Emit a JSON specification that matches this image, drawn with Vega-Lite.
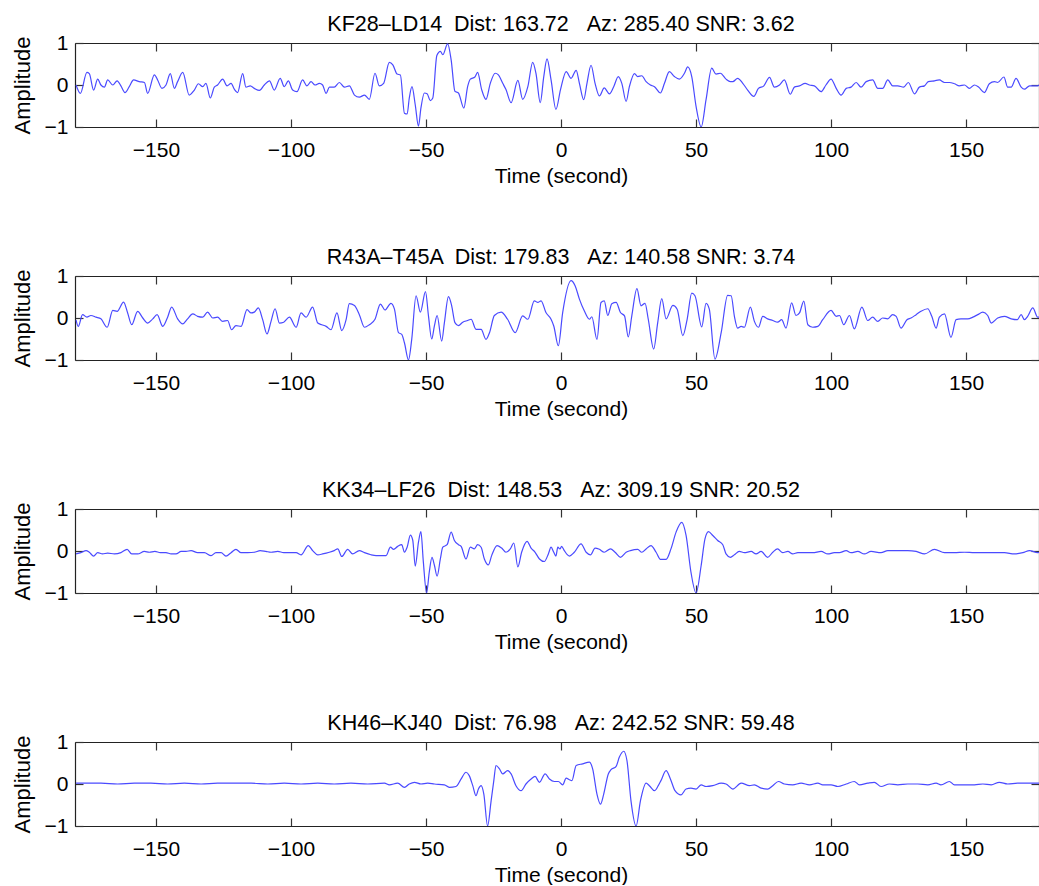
{
  "$schema": "https://vega.github.io/schema/vega-lite/v6.json",
  "padding": {"left": 11, "top": 13, "right": 0, "bottom": 0},
  "background": "white",
  "spacing": 60,
  "config": {
    "view": {"stroke": null},
    "font": "Liberation Sans",
    "title": {"font": "Liberation Sans", "fontSize": 21.5, "fontWeight": "normal", "color": "#000", "offset": -3, "dx": 4},
    "axis": {
      "labelFont": "Liberation Sans", "labelFontSize": 21, "labelColor": "#000", "labelOverlap": false,
      "titleFont": "Liberation Sans", "titleFontSize": 21, "titleFontWeight": "normal", "titleColor": "#000",
      "domainColor": "#222", "domainWidth": 1.2, "tickColor": "#333", "tickWidth": 1.2, "tickSize": -8, "grid": false
    }
  },
  "datasets": {
    "p1": [
      {"t":-179.6,"a":0.00},{"t":-178.0,"a":-0.20},{"t":-175.6,"a":0.30},{"t":-174.7,"a":0.27},{"t":-173.1,"a":-0.12},{"t":-171.6,"a":0.14},{"t":-170.4,"a":0.00},{"t":-169.1,"a":-0.05},{"t":-167.9,"a":0.12},{"t":-166.0,"a":0.00},{"t":-164.4,"a":0.10},{"t":-163.0,"a":-0.02},{"t":-161.5,"a":-0.18},{"t":-159.9,"a":-0.04},{"t":-158.3,"a":0.12},{"t":-156.2,"a":0.08},{"t":-154.3,"a":0.06},{"t":-153.1,"a":-0.20},{"t":-150.6,"a":0.24},{"t":-149.4,"a":0.12},{"t":-147.8,"a":-0.08},{"t":-146.3,"a":0.00},{"t":-144.7,"a":0.27},{"t":-143.2,"a":-0.08},{"t":-142.0,"a":0.08},{"t":-140.1,"a":0.30},{"t":-137.7,"a":-0.24},{"t":-135.8,"a":-0.12},{"t":-134.3,"a":0.03},{"t":-132.7,"a":-0.04},{"t":-131.5,"a":0.04},{"t":-129.9,"a":-0.31},{"t":-128.4,"a":-0.05},{"t":-127.2,"a":0.00},{"t":-125.3,"a":0.14},{"t":-123.7,"a":-0.02},{"t":-122.2,"a":0.04},{"t":-121.0,"a":-0.10},{"t":-119.8,"a":-0.18},{"t":-117.9,"a":0.27},{"t":-116.7,"a":-0.05},{"t":-115.1,"a":-0.02},{"t":-113.6,"a":-0.08},{"t":-111.7,"a":-0.13},{"t":-109.9,"a":0.00},{"t":-108.0,"a":0.10},{"t":-106.2,"a":-0.12},{"t":-104.0,"a":0.16},{"t":-102.5,"a":-0.04},{"t":-101.0,"a":0.10},{"t":-99.4,"a":-0.12},{"t":-97.8,"a":-0.16},{"t":-95.7,"a":0.12},{"t":-94.1,"a":-0.02},{"t":-92.6,"a":0.08},{"t":-91.1,"a":0.00},{"t":-89.5,"a":0.04},{"t":-88.3,"a":0.00},{"t":-87.0,"a":-0.20},{"t":-85.8,"a":-0.05},{"t":-84.0,"a":-0.05},{"t":-82.1,"a":0.06},{"t":-80.2,"a":-0.05},{"t":-78.4,"a":-0.02},{"t":-76.5,"a":-0.24},{"t":-74.7,"a":-0.29},{"t":-72.8,"a":-0.24},{"t":-71.0,"a":-0.34},
      {"t":-68.9,"a":0.28},{"t":-67.3,"a":-0.02},{"t":-65.7,"a":0.04},{"t":-63.6,"a":0.54},{"t":-62.3,"a":0.48},{"t":-60.7,"a":0.26},{"t":-59.5,"a":0.24},{"t":-58.0,"a":-0.67},{"t":-57.0,"a":-0.69},{"t":-56.2,"a":-0.31},{"t":-55.2,"a":-0.04},{"t":-54.0,"a":-0.47},{"t":-52.8,"a":-0.98},{"t":-51.9,"a":-0.55},{"t":-50.6,"a":-0.19},{"t":-49.6,"a":-0.21},{"t":-48.4,"a":-0.37},{"t":-47.5,"a":-0.31},{"t":-46.0,"a":0.70},{"t":-44.7,"a":0.80},{"t":-43.8,"a":0.72},{"t":-42.0,"a":0.98},{"t":-40.7,"a":0.60},{"t":-39.3,"a":-0.15},{"t":-38.0,"a":-0.19},{"t":-36.0,"a":-0.55},{"t":-34.6,"a":-0.04},{"t":-33.6,"a":0.14},{"t":-31.9,"a":0.19},{"t":-30.9,"a":0.30},{"t":-29.4,"a":-0.11},{"t":-27.8,"a":-0.34},{"t":-26.2,"a":0.04},{"t":-24.4,"a":0.28},{"t":-23.2,"a":0.24},{"t":-21.6,"a":0.04},{"t":-20.4,"a":-0.11},{"t":-18.5,"a":-0.42},{"t":-16.0,"a":0.11},{"t":-14.2,"a":-0.34},{"t":-12.3,"a":-0.04},{"t":-10.5,"a":0.54},{"t":-9.3,"a":0.28},{"t":-7.7,"a":-0.42},{"t":-6.4,"a":0.20},{"t":-5.2,"a":0.62},{"t":-3.7,"a":0.12},{"t":-1.9,"a":-0.58},{"t":-0.2,"a":-0.11},{"t":1.9,"a":0.32},{"t":3.7,"a":0.16},{"t":5.6,"a":0.35},{"t":6.8,"a":0.04},{"t":8.4,"a":-0.35},{"t":9.6,"a":0.04},{"t":11.1,"a":0.47},{"t":12.6,"a":0.04},{"t":14.2,"a":-0.26},{"t":16.0,"a":-0.07},{"t":17.9,"a":-0.21},{"t":19.5,"a":-0.04},{"t":21.2,"a":0.20},{"t":22.5,"a":0.04},{"t":24.1,"a":-0.39},{"t":25.3,"a":-0.04},{"t":27.2,"a":0.27},{"t":28.4,"a":0.20},{"t":29.9,"a":0.22},{"t":31.5,"a":0.08},{"t":33.1,"a":0.00},{"t":34.6,"a":-0.04},{"t":36.8,"a":-0.19},{"t":38.3,"a":0.04},{"t":40.1,"a":0.32},{"t":42.0,"a":0.20},{"t":43.8,"a":0.14},{"t":45.7,"a":0.28},{"t":46.9,"a":0.43},{"t":48.4,"a":0.20},{"t":50.0,"a":-0.51},{"t":51.9,"a":-1.00},{"t":53.7,"a":-0.35},{"t":55.8,"a":0.40},{"t":57.4,"a":0.26},{"t":59.0,"a":0.28},{"t":61.1,"a":0.14},{"t":62.7,"a":0.08},
      {"t":63.6,"a":0.08},{"t":65.4,"a":0.16},{"t":67.3,"a":0.04},{"t":69.1,"a":-0.12},{"t":71.4,"a":-0.27},{"t":73.1,"a":-0.08},{"t":75.1,"a":-0.02},{"t":77.2,"a":0.18},{"t":79.0,"a":-0.05},{"t":80.9,"a":0.00},{"t":82.7,"a":0.12},{"t":84.9,"a":-0.22},{"t":86.4,"a":-0.05},{"t":88.3,"a":-0.02},{"t":90.4,"a":0.04},{"t":92.0,"a":0.00},{"t":93.8,"a":-0.02},{"t":96.3,"a":-0.16},{"t":98.1,"a":0.00},{"t":100.0,"a":0.14},{"t":101.9,"a":-0.08},{"t":103.7,"a":-0.24},{"t":105.6,"a":-0.08},{"t":107.4,"a":-0.05},{"t":109.3,"a":0.06},{"t":111.1,"a":-0.05},{"t":113.0,"a":0.08},{"t":115.4,"a":0.12},{"t":117.3,"a":-0.08},{"t":119.1,"a":-0.08},{"t":121.0,"a":0.12},{"t":122.8,"a":-0.02},{"t":124.7,"a":-0.02},{"t":126.9,"a":-0.05},{"t":128.6,"a":0.06},{"t":130.9,"a":-0.21},{"t":132.7,"a":-0.05},{"t":134.6,"a":-0.02},{"t":136.0,"a":0.08},{"t":138.3,"a":0.10},{"t":140.1,"a":0.12},{"t":142.0,"a":0.06},{"t":143.8,"a":0.06},{"t":145.7,"a":0.03},{"t":147.5,"a":-0.02},{"t":149.4,"a":0.00},{"t":151.2,"a":-0.08},{"t":153.1,"a":0.00},{"t":154.6,"a":-0.05},{"t":156.8,"a":-0.18},{"t":158.6,"a":0.03},{"t":160.5,"a":0.08},{"t":161.7,"a":0.06},{"t":164.0,"a":0.19},{"t":165.4,"a":-0.05},{"t":166.7,"a":-0.05},{"t":168.5,"a":0.16},{"t":170.4,"a":-0.05},{"t":171.6,"a":-0.10},{"t":173.5,"a":-0.02},{"t":176.5,"a":-0.02},{"t":177.0,"a":0.00}
    ],
    "p2": [
      {"t":-179.6,"a":-0.05},{"t":-178.8,"a":-0.20},{"t":-177.2,"a":0.08},{"t":-175.6,"a":0.02},{"t":-174.1,"a":0.06},{"t":-172.2,"a":0.02},{"t":-170.4,"a":-0.02},{"t":-168.1,"a":-0.22},{"t":-166.0,"a":0.18},{"t":-164.4,"a":0.16},{"t":-162.0,"a":0.38},{"t":-160.5,"a":0.12},{"t":-159.0,"a":-0.16},{"t":-156.8,"a":0.16},{"t":-154.9,"a":0.00},{"t":-153.1,"a":-0.12},{"t":-151.2,"a":-0.02},{"t":-149.6,"a":0.08},{"t":-147.5,"a":-0.20},{"t":-145.7,"a":0.02},{"t":-144.2,"a":0.26},{"t":-142.0,"a":-0.02},{"t":-140.1,"a":-0.14},{"t":-138.3,"a":-0.02},{"t":-136.4,"a":0.10},{"t":-134.6,"a":0.04},{"t":-132.7,"a":0.02},{"t":-130.9,"a":0.14},{"t":-129.0,"a":0.00},{"t":-127.2,"a":0.02},{"t":-125.3,"a":-0.08},{"t":-123.5,"a":-0.06},{"t":-122.0,"a":-0.28},{"t":-120.4,"a":-0.18},{"t":-118.5,"a":-0.20},{"t":-116.3,"a":0.20},{"t":-114.8,"a":0.12},{"t":-113.6,"a":0.14},{"t":-112.1,"a":0.24},{"t":-110.5,"a":-0.04},{"t":-108.9,"a":-0.38},{"t":-107.4,"a":-0.08},{"t":-105.9,"a":0.22},{"t":-104.3,"a":-0.12},{"t":-102.7,"a":-0.10},{"t":-100.6,"a":0.02},{"t":-98.1,"a":-0.22},{"t":-96.3,"a":0.12},{"t":-94.4,"a":0.02},{"t":-92.0,"a":0.26},{"t":-90.1,"a":-0.12},{"t":-88.6,"a":-0.16},{"t":-87.0,"a":-0.20},{"t":-85.2,"a":-0.28},{"t":-83.0,"a":0.12},{"t":-81.2,"a":-0.30},{"t":-79.6,"a":-0.04},{"t":-78.4,"a":0.34},{"t":-76.5,"a":0.30},{"t":-74.7,"a":0.08},{"t":-72.8,"a":-0.22},{"t":-71.0,"a":-0.16},
      {"t":-68.9,"a":-0.03},{"t":-66.9,"a":0.33},{"t":-65.2,"a":0.19},{"t":-63.0,"a":0.35},{"t":-61.7,"a":0.21},{"t":-60.2,"a":-0.35},{"t":-59.0,"a":-0.39},{"t":-58.0,"a":-0.59},{"t":-56.5,"a":-1.00},{"t":-55.3,"a":-0.51},{"t":-53.7,"a":0.53},{"t":-52.1,"a":0.14},{"t":-50.2,"a":0.63},{"t":-49.1,"a":0.05},{"t":-47.9,"a":-0.50},{"t":-46.9,"a":-0.19},{"t":-45.9,"a":0.06},{"t":-44.2,"a":-0.55},{"t":-43.2,"a":-0.11},{"t":-41.7,"a":0.51},{"t":-40.5,"a":0.29},{"t":-39.3,"a":-0.11},{"t":-38.0,"a":-0.18},{"t":-36.4,"a":-0.10},{"t":-34.6,"a":-0.06},{"t":-33.3,"a":-0.03},{"t":-31.5,"a":-0.27},{"t":-29.6,"a":-0.27},{"t":-27.8,"a":-0.51},{"t":-26.5,"a":-0.35},{"t":-24.7,"a":0.06},{"t":-22.2,"a":0.14},{"t":-19.8,"a":-0.03},{"t":-17.0,"a":-0.35},{"t":-14.2,"a":0.05},{"t":-12.3,"a":-0.03},{"t":-9.9,"a":0.41},{"t":-8.6,"a":0.37},{"t":-7.4,"a":0.41},{"t":-5.6,"a":0.13},{"t":-3.7,"a":-0.03},{"t":-2.7,"a":-0.19},{"t":-1.0,"a":-0.66},{"t":0.6,"a":0.13},{"t":3.7,"a":0.89},{"t":5.2,"a":0.77},{"t":6.8,"a":0.45},{"t":8.6,"a":0.17},{"t":10.5,"a":-0.03},{"t":11.4,"a":0.03},{"t":13.3,"a":-0.51},{"t":14.8,"a":0.37},{"t":16.0,"a":0.41},{"t":17.3,"a":0.06},{"t":18.8,"a":0.34},{"t":20.4,"a":0.37},{"t":22.0,"a":0.13},{"t":23.5,"a":0.05},{"t":24.9,"a":-0.45},{"t":26.2,"a":0.05},{"t":28.1,"a":0.70},{"t":29.6,"a":0.29},{"t":31.1,"a":0.35},{"t":32.3,"a":-0.03},{"t":34.3,"a":-0.74},{"t":35.8,"a":-0.11},{"t":37.3,"a":0.46},{"t":38.9,"a":-0.02},{"t":41.4,"a":0.30},{"t":43.0,"a":0.21},{"t":45.1,"a":-0.42},{"t":46.7,"a":-0.03},{"t":48.4,"a":0.59},{"t":49.6,"a":0.53},{"t":52.1,"a":-0.21},{"t":53.7,"a":0.35},{"t":54.9,"a":0.21},{"t":57.0,"a":-0.98},{"t":59.3,"a":-0.35},{"t":61.7,"a":0.54},{"t":63.0,"a":0.53},
      {"t":64.2,"a":0.04},{"t":65.4,"a":-0.24},{"t":66.7,"a":-0.20},{"t":67.9,"a":-0.22},{"t":70.1,"a":0.26},{"t":71.6,"a":-0.08},{"t":73.1,"a":-0.22},{"t":74.7,"a":0.04},{"t":76.5,"a":-0.02},{"t":78.4,"a":-0.06},{"t":80.2,"a":-0.10},{"t":81.7,"a":-0.04},{"t":83.3,"a":-0.24},{"t":85.4,"a":0.36},{"t":87.0,"a":0.06},{"t":88.3,"a":0.12},{"t":89.9,"a":0.40},{"t":91.4,"a":-0.16},{"t":93.2,"a":-0.22},{"t":95.1,"a":-0.20},{"t":96.9,"a":-0.04},{"t":100.0,"a":0.18},{"t":101.9,"a":0.04},{"t":103.1,"a":0.06},{"t":104.7,"a":-0.16},{"t":106.8,"a":0.06},{"t":108.6,"a":-0.26},{"t":111.4,"a":0.26},{"t":113.6,"a":-0.06},{"t":115.4,"a":0.02},{"t":117.3,"a":-0.08},{"t":119.1,"a":0.00},{"t":121.0,"a":-0.02},{"t":122.8,"a":0.08},{"t":124.1,"a":0.04},{"t":125.9,"a":-0.24},{"t":128.1,"a":-0.04},{"t":129.6,"a":0.00},{"t":131.5,"a":0.08},{"t":133.3,"a":0.16},{"t":135.8,"a":0.22},{"t":137.3,"a":0.04},{"t":138.9,"a":-0.24},{"t":140.1,"a":0.02},{"t":142.0,"a":0.10},{"t":144.4,"a":-0.46},{"t":146.3,"a":-0.04},{"t":148.1,"a":-0.02},{"t":150.6,"a":-0.02},{"t":152.5,"a":0.02},{"t":154.3,"a":0.08},{"t":156.2,"a":0.14},{"t":158.0,"a":0.06},{"t":159.3,"a":-0.12},{"t":161.7,"a":0.00},{"t":164.2,"a":0.04},{"t":166.7,"a":-0.02},{"t":168.9,"a":-0.04},{"t":170.4,"a":0.08},{"t":171.6,"a":-0.04},{"t":172.8,"a":0.04},{"t":174.7,"a":0.24},{"t":176.5,"a":0.02},{"t":177.0,"a":0.02}
    ],
    "p3": [
      {"t":-179.6,"a":-0.07},{"t":-177.8,"a":-0.04},{"t":-175.9,"a":0.01},{"t":-174.7,"a":-0.03},{"t":-173.1,"a":-0.12},{"t":-171.6,"a":-0.04},{"t":-169.8,"a":-0.07},{"t":-167.9,"a":-0.05},{"t":-165.4,"a":-0.07},{"t":-163.0,"a":-0.04},{"t":-160.7,"a":0.04},{"t":-159.0,"a":-0.07},{"t":-156.8,"a":-0.07},{"t":-154.3,"a":-0.01},{"t":-152.5,"a":-0.03},{"t":-150.4,"a":-0.01},{"t":-148.4,"a":-0.04},{"t":-146.3,"a":-0.04},{"t":-144.4,"a":-0.07},{"t":-142.6,"a":-0.07},{"t":-140.7,"a":-0.01},{"t":-138.9,"a":-0.01},{"t":-137.0,"a":0.01},{"t":-134.6,"a":-0.04},{"t":-132.1,"a":-0.04},{"t":-129.6,"a":-0.11},{"t":-127.8,"a":-0.04},{"t":-125.9,"a":-0.04},{"t":-124.1,"a":-0.12},{"t":-122.2,"a":-0.04},{"t":-120.4,"a":0.04},{"t":-118.5,"a":-0.04},{"t":-116.0,"a":-0.04},{"t":-113.6,"a":-0.03},{"t":-111.4,"a":0.01},{"t":-109.3,"a":-0.01},{"t":-107.4,"a":-0.03},{"t":-104.9,"a":-0.01},{"t":-102.7,"a":-0.04},{"t":-100.6,"a":-0.04},{"t":-98.1,"a":-0.04},{"t":-96.3,"a":-0.09},{"t":-93.6,"a":0.13},{"t":-92.0,"a":0.01},{"t":-90.1,"a":-0.09},{"t":-88.3,"a":-0.07},{"t":-85.8,"a":-0.03},{"t":-84.0,"a":0.01},{"t":-82.7,"a":0.05},{"t":-81.2,"a":-0.13},{"t":-79.0,"a":0.04},{"t":-77.2,"a":-0.07},{"t":-74.7,"a":0.01},{"t":-72.8,"a":-0.04},{"t":-70.4,"a":-0.09},
      {"t":-68.5,"a":-0.11},{"t":-66.7,"a":-0.11},{"t":-64.8,"a":-0.11},{"t":-63.2,"a":0.09},{"t":-62.0,"a":0.04},{"t":-60.5,"a":0.11},{"t":-59.0,"a":0.15},{"t":-58.0,"a":-0.03},{"t":-57.0,"a":0.09},{"t":-55.8,"a":0.38},{"t":-54.9,"a":0.25},{"t":-54.0,"a":-0.36},{"t":-52.8,"a":0.21},{"t":-51.9,"a":0.46},{"t":-51.0,"a":-0.26},{"t":-49.8,"a":-1.00},{"t":-48.8,"a":-0.50},{"t":-47.8,"a":-0.15},{"t":-46.9,"a":-0.34},{"t":-45.9,"a":-0.60},{"t":-44.7,"a":-0.19},{"t":-43.8,"a":0.09},{"t":-42.2,"a":0.15},{"t":-40.7,"a":0.45},{"t":-39.5,"a":0.25},{"t":-38.0,"a":0.15},{"t":-37.0,"a":0.11},{"t":-35.2,"a":-0.19},{"t":-33.6,"a":0.09},{"t":-32.1,"a":0.05},{"t":-30.9,"a":0.15},{"t":-29.6,"a":0.09},{"t":-28.4,"a":-0.19},{"t":-26.9,"a":-0.33},{"t":-25.7,"a":-0.11},{"t":-23.7,"a":0.13},{"t":-22.0,"a":0.07},{"t":-20.4,"a":-0.03},{"t":-18.8,"a":0.05},{"t":-17.5,"a":0.19},{"t":-16.0,"a":-0.38},{"t":-14.6,"a":-0.03},{"t":-12.6,"a":0.23},{"t":-11.1,"a":0.07},{"t":-9.6,"a":-0.03},{"t":-8.0,"a":-0.19},{"t":-6.2,"a":-0.25},{"t":-4.7,"a":-0.07},{"t":-3.7,"a":0.09},{"t":-2.7,"a":-0.03},{"t":-1.9,"a":-0.12},{"t":-1.2,"a":0.09},{"t":-0.4,"a":0.05},{"t":0.2,"a":0.11},{"t":1.2,"a":0.01},{"t":3.1,"a":-0.12},{"t":4.9,"a":-0.03},{"t":7.4,"a":0.17},{"t":9.3,"a":-0.03},{"t":10.9,"a":-0.09},{"t":12.6,"a":0.07},{"t":14.2,"a":0.04},{"t":16.0,"a":-0.03},{"t":18.3,"a":0.05},{"t":20.0,"a":-0.03},{"t":22.0,"a":-0.15},{"t":24.1,"a":-0.03},{"t":25.7,"a":0.01},{"t":28.4,"a":0.04},{"t":29.9,"a":-0.03},{"t":31.5,"a":0.05},{"t":33.3,"a":0.13},{"t":35.2,"a":-0.03},{"t":36.8,"a":-0.20},{"t":38.9,"a":-0.20},{"t":40.7,"a":0.05},{"t":42.6,"a":0.45},{"t":44.7,"a":0.68},{"t":46.3,"a":0.37},{"t":48.1,"a":-0.50},{"t":50.0,"a":-1.00},{"t":51.9,"a":-0.34},{"t":53.3,"a":0.29},{"t":54.6,"a":0.46},{"t":56.2,"a":0.37},{"t":58.0,"a":0.25},{"t":59.9,"a":0.15},{"t":61.1,"a":-0.07},{"t":62.7,"a":-0.15},
      {"t":64.2,"a":-0.09},{"t":66.0,"a":-0.01},{"t":67.9,"a":-0.04},{"t":70.4,"a":-0.01},{"t":72.2,"a":-0.07},{"t":74.1,"a":-0.01},{"t":76.5,"a":-0.15},{"t":78.4,"a":-0.03},{"t":80.2,"a":0.05},{"t":82.1,"a":-0.04},{"t":84.0,"a":-0.01},{"t":85.8,"a":-0.07},{"t":87.7,"a":-0.04},{"t":90.1,"a":-0.04},{"t":93.2,"a":-0.04},{"t":96.3,"a":-0.01},{"t":98.8,"a":-0.07},{"t":101.2,"a":-0.04},{"t":103.1,"a":-0.04},{"t":105.6,"a":0.01},{"t":107.4,"a":-0.04},{"t":109.9,"a":-0.01},{"t":112.3,"a":-0.07},{"t":114.8,"a":-0.01},{"t":118.5,"a":-0.04},{"t":121.0,"a":0.01},{"t":124.7,"a":0.01},{"t":128.4,"a":0.01},{"t":131.5,"a":-0.01},{"t":134.6,"a":-0.07},{"t":138.3,"a":0.04},{"t":142.0,"a":-0.04},{"t":145.7,"a":-0.04},{"t":149.4,"a":-0.03},{"t":153.1,"a":-0.04},{"t":156.8,"a":-0.04},{"t":160.5,"a":-0.04},{"t":164.2,"a":-0.04},{"t":167.9,"a":-0.07},{"t":171.0,"a":-0.04},{"t":173.5,"a":0.01},{"t":176.5,"a":-0.04},{"t":177.0,"a":-0.03}
    ],
    "p4": [
      {"t":-179.6,"a":0.02},{"t":-170.4,"a":0.02},{"t":-164.2,"a":0.00},{"t":-158.0,"a":0.02},{"t":-151.9,"a":0.02},{"t":-145.7,"a":0.00},{"t":-139.5,"a":0.02},{"t":-133.3,"a":0.00},{"t":-127.2,"a":0.02},{"t":-121.0,"a":0.02},{"t":-114.8,"a":0.02},{"t":-108.6,"a":0.00},{"t":-102.5,"a":0.02},{"t":-96.3,"a":0.00},{"t":-90.1,"a":0.02},{"t":-84.0,"a":0.00},{"t":-77.8,"a":0.02},{"t":-71.6,"a":0.00},{"t":-65.4,"a":0.02},{"t":-63.6,"a":-0.02},{"t":-60.5,"a":0.02},{"t":-58.0,"a":-0.08},{"t":-56.2,"a":0.00},{"t":-54.3,"a":0.04},{"t":-51.9,"a":0.00},{"t":-49.4,"a":0.02},{"t":-46.9,"a":0.00},{"t":-43.2,"a":-0.02},{"t":-41.4,"a":-0.08},{"t":-38.9,"a":-0.06},{"t":-37.0,"a":0.12},{"t":-35.2,"a":0.28},{"t":-34.0,"a":0.20},{"t":-32.7,"a":-0.04},{"t":-31.5,"a":-0.28},{"t":-30.6,"a":-0.12},{"t":-29.6,"a":-0.04},{"t":-28.6,"a":-0.24},{"t":-27.2,"a":-1.00},{"t":-25.9,"a":-0.40},{"t":-24.9,"a":0.08},{"t":-24.1,"a":0.44},{"t":-22.8,"a":0.36},{"t":-21.6,"a":0.24},{"t":-19.8,"a":0.32},{"t":-18.5,"a":0.24},{"t":-16.7,"a":-0.04},{"t":-14.8,"a":-0.16},
      {"t":-13.0,"a":0.00},{"t":-11.1,"a":0.12},{"t":-9.6,"a":0.18},{"t":-8.0,"a":0.04},{"t":-5.9,"a":0.24},{"t":-4.3,"a":0.12},{"t":-2.5,"a":0.06},{"t":-1.0,"a":0.06},{"t":0.6,"a":-0.02},{"t":1.9,"a":0.14},{"t":3.1,"a":0.10},{"t":4.0,"a":0.08},{"t":5.6,"a":0.44},{"t":8.0,"a":0.48},{"t":10.5,"a":0.52},{"t":11.7,"a":0.36},{"t":13.3,"a":-0.24},{"t":14.6,"a":-0.48},{"t":15.8,"a":-0.24},{"t":17.5,"a":0.24},{"t":18.5,"a":0.34},{"t":20.4,"a":0.42},{"t":21.6,"a":0.64},{"t":23.2,"a":0.78},{"t":24.4,"a":0.56},{"t":25.9,"a":-0.40},{"t":27.8,"a":-1.00},{"t":29.4,"a":-0.40},{"t":31.5,"a":0.02},{"t":32.7,"a":-0.04},{"t":34.6,"a":-0.16},{"t":36.0,"a":-0.04},{"t":37.0,"a":0.08},{"t":38.9,"a":0.32},{"t":40.5,"a":0.12},{"t":42.2,"a":-0.16},{"t":44.4,"a":-0.26},{"t":46.3,"a":-0.12},{"t":48.1,"a":-0.10},{"t":50.0,"a":-0.12},{"t":51.9,"a":-0.02},{"t":53.7,"a":-0.06},{"t":56.2,"a":-0.04},{"t":59.3,"a":0.02},{"t":61.1,"a":0.00},{"t":63.6,"a":-0.12},{"t":66.7,"a":0.02},{"t":69.8,"a":-0.04},{"t":71.6,"a":-0.02},{"t":74.1,"a":-0.10},{"t":76.5,"a":-0.12},{"t":78.4,"a":-0.04},{"t":80.5,"a":0.06},{"t":82.7,"a":0.00},{"t":85.8,"a":-0.02},{"t":88.9,"a":0.02},{"t":92.0,"a":-0.02},{"t":95.1,"a":0.02},{"t":96.9,"a":-0.02},{"t":100.0,"a":-0.02},{"t":102.5,"a":-0.06},{"t":105.6,"a":0.00},{"t":108.6,"a":0.06},{"t":110.5,"a":-0.02},{"t":113.6,"a":0.02},{"t":116.0,"a":0.04},{"t":118.5,"a":-0.06},{"t":121.6,"a":0.00},{"t":124.7,"a":-0.02},{"t":128.4,"a":0.00},{"t":132.1,"a":0.00},{"t":135.8,"a":-0.02},{"t":138.9,"a":0.02},{"t":140.7,"a":-0.02},{"t":143.8,"a":0.06},{"t":145.7,"a":-0.02},{"t":149.4,"a":-0.02},{"t":153.1,"a":-0.02},{"t":156.2,"a":0.00},{"t":159.3,"a":-0.02},{"t":162.3,"a":0.04},{"t":165.4,"a":0.00},{"t":169.1,"a":0.02},{"t":172.8,"a":0.02},{"t":176.5,"a":0.02},{"t":177.0,"a":0.02}
    ]
  },
  "vconcat": [
    {
      "title": {"text": "KF28–LD14 \u00a0Dist: 163.72 \u00a0\u00a0Az: 285.40 SNR: 3.62"},
      "width": 964, "height": 84,
      "data": {"name": "p1"},
      "resolve": {"axis": {"x": "independent", "y": "independent"}},
      "layer": [
        {"mark": {"type": "line", "color": "#4a4aff", "strokeWidth": 1.2, "interpolate": "monotone", "clip": true},
         "encoding": {
           "x": {"field": "t", "type": "quantitative", "scale": {"domain": [-180, 177], "nice": false, "zero": false},
                 "axis": {"orient": "bottom", "values": [-150, -100, -50, 0, 50, 100, 150], "title": "Time (second)", "labelPadding": 20, "titlePadding": 5, "titleX": 486}},
           "y": {"field": "a", "type": "quantitative", "scale": {"domain": [-1, 1], "nice": false},
                 "axis": {"orient": "left", "values": [-1, 0, 1], "labelExpr": "datum.value > 0.5 ? '1' : (datum.value < -0.5 ? '−1' : '0')", "labelOverlap": false, "title": "Amplitude", "titleFontSize": 22, "labelPadding": 15, "titlePadding": 10}}
         }},
        {"mark": {"type": "line", "strokeOpacity": 0},
         "encoding": {
           "x": {"field": "t", "type": "quantitative", "axis": {"orient": "top", "values": [-150, -100, -50, 0, 50, 100, 150], "labels": false, "title": null}},
           "y": {"field": "a", "type": "quantitative", "axis": {"orient": "right", "values": [-1, 0, 1], "labels": false, "title": null}}
         }}
      ]
    },
    {
      "title": {"text": "R43A–T45A \u00a0Dist: 179.83 \u00a0\u00a0Az: 140.58 SNR: 3.74"},
      "width": 964, "height": 84,
      "data": {"name": "p2"},
      "resolve": {"axis": {"x": "independent", "y": "independent"}},
      "layer": [
        {"mark": {"type": "line", "color": "#4a4aff", "strokeWidth": 1.2, "interpolate": "monotone", "clip": true},
         "encoding": {
           "x": {"field": "t", "type": "quantitative", "scale": {"domain": [-180, 177], "nice": false, "zero": false},
                 "axis": {"orient": "bottom", "values": [-150, -100, -50, 0, 50, 100, 150], "title": "Time (second)", "labelPadding": 20, "titlePadding": 5, "titleX": 486}},
           "y": {"field": "a", "type": "quantitative", "scale": {"domain": [-1, 1], "nice": false},
                 "axis": {"orient": "left", "values": [-1, 0, 1], "labelExpr": "datum.value > 0.5 ? '1' : (datum.value < -0.5 ? '−1' : '0')", "labelOverlap": false, "title": "Amplitude", "titleFontSize": 22, "labelPadding": 15, "titlePadding": 10}}
         }},
        {"mark": {"type": "line", "strokeOpacity": 0},
         "encoding": {
           "x": {"field": "t", "type": "quantitative", "axis": {"orient": "top", "values": [-150, -100, -50, 0, 50, 100, 150], "labels": false, "title": null}},
           "y": {"field": "a", "type": "quantitative", "axis": {"orient": "right", "values": [-1, 0, 1], "labels": false, "title": null}}
         }}
      ]
    },
    {
      "title": {"text": "KK34–LF26 \u00a0Dist: 148.53 \u00a0\u00a0Az: 309.19 SNR: 20.52"},
      "width": 964, "height": 84,
      "data": {"name": "p3"},
      "resolve": {"axis": {"x": "independent", "y": "independent"}},
      "layer": [
        {"mark": {"type": "line", "color": "#4a4aff", "strokeWidth": 1.2, "interpolate": "monotone", "clip": true},
         "encoding": {
           "x": {"field": "t", "type": "quantitative", "scale": {"domain": [-180, 177], "nice": false, "zero": false},
                 "axis": {"orient": "bottom", "values": [-150, -100, -50, 0, 50, 100, 150], "title": "Time (second)", "labelPadding": 20, "titlePadding": 5, "titleX": 486}},
           "y": {"field": "a", "type": "quantitative", "scale": {"domain": [-1, 1], "nice": false},
                 "axis": {"orient": "left", "values": [-1, 0, 1], "labelExpr": "datum.value > 0.5 ? '1' : (datum.value < -0.5 ? '−1' : '0')", "labelOverlap": false, "title": "Amplitude", "titleFontSize": 22, "labelPadding": 15, "titlePadding": 10}}
         }},
        {"mark": {"type": "line", "strokeOpacity": 0},
         "encoding": {
           "x": {"field": "t", "type": "quantitative", "axis": {"orient": "top", "values": [-150, -100, -50, 0, 50, 100, 150], "labels": false, "title": null}},
           "y": {"field": "a", "type": "quantitative", "axis": {"orient": "right", "values": [-1, 0, 1], "labels": false, "title": null}}
         }}
      ]
    },
    {
      "title": {"text": "KH46–KJ40 \u00a0Dist: 76.98 \u00a0\u00a0Az: 242.52 SNR: 59.48"},
      "width": 964, "height": 84,
      "data": {"name": "p4"},
      "resolve": {"axis": {"x": "independent", "y": "independent"}},
      "layer": [
        {"mark": {"type": "line", "color": "#4a4aff", "strokeWidth": 1.2, "interpolate": "monotone", "clip": true},
         "encoding": {
           "x": {"field": "t", "type": "quantitative", "scale": {"domain": [-180, 177], "nice": false, "zero": false},
                 "axis": {"orient": "bottom", "values": [-150, -100, -50, 0, 50, 100, 150], "title": "Time (second)", "labelPadding": 20, "titlePadding": 5, "titleX": 486}},
           "y": {"field": "a", "type": "quantitative", "scale": {"domain": [-1, 1], "nice": false},
                 "axis": {"orient": "left", "values": [-1, 0, 1], "labelExpr": "datum.value > 0.5 ? '1' : (datum.value < -0.5 ? '−1' : '0')", "labelOverlap": false, "title": "Amplitude", "titleFontSize": 22, "labelPadding": 15, "titlePadding": 10}}
         }},
        {"mark": {"type": "line", "strokeOpacity": 0},
         "encoding": {
           "x": {"field": "t", "type": "quantitative", "axis": {"orient": "top", "values": [-150, -100, -50, 0, 50, 100, 150], "labels": false, "title": null}},
           "y": {"field": "a", "type": "quantitative", "axis": {"orient": "right", "values": [-1, 0, 1], "labels": false, "title": null}}
         }}
      ]
    }
  ]
}
